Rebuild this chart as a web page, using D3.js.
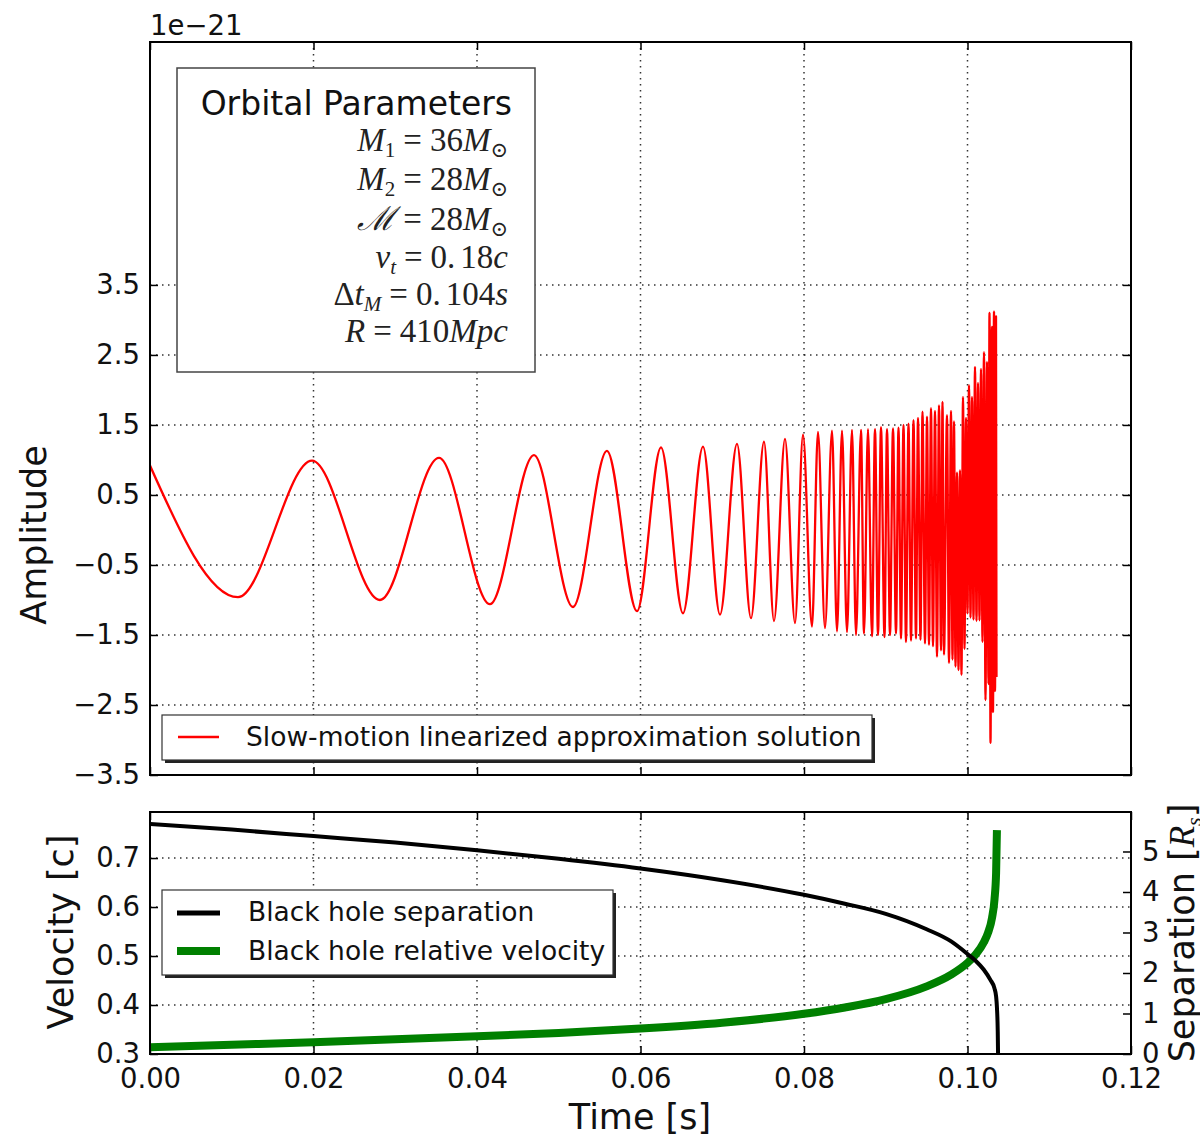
<!DOCTYPE html>
<html>
<head>
<meta charset="utf-8">
<script src="https://cdn.jsdelivr.net/npm/d3@7"></script>
<style>
body { margin: 0; background: #fff; }
</style>
</head>
<body>
<div class="chart"></div>
<script>
// tick values
const xTicks = [0, 0.02, 0.04, 0.06, 0.08, 0.10, 0.12];
const ampTicks = [3.5, 2.5, 1.5, 0.5, -0.5, -1.5, -2.5, -3.5];
const velTicks = [0.3, 0.4, 0.5, 0.6, 0.7];
const sepTicks = [0, 1, 2, 3, 4, 5];

// strain waveform, read as successive peaks/troughs (time in s, amplitude in 1e-21)
const waveT = [0.000000, 0.010765, 0.019816, 0.028135, 0.035352, 0.041590, 0.046972, 0.051743, 0.055902, 0.059572,
  0.062508, 0.065199, 0.067645, 0.069725, 0.071804, 0.073517, 0.075107, 0.076330, 0.077676, 0.078899,
  0.079878, 0.080978, 0.081712, 0.082569, 0.083425, 0.084037, 0.084648, 0.085260, 0.085871, 0.086361,
  0.086972, 0.087339, 0.087829, 0.088318, 0.088685, 0.089052, 0.089419, 0.089847, 0.090153,
  0.090520, 0.090887, 0.091254, 0.091560, 0.091865, 0.092171, 0.092477, 0.092783, 0.093089, 0.093394,
  0.093700, 0.093945, 0.094251, 0.094495, 0.094801, 0.095046, 0.095290, 0.095535, 0.095780, 0.096024,
  0.096269, 0.096514, 0.096758, 0.096942, 0.097125, 0.097492, 0.097737, 0.097982, 0.098165, 0.098348,
  0.098532, 0.098715, 0.098899, 0.099082, 0.099266, 0.099449, 0.099633, 0.099816, 0.100000, 0.100183,
  0.100367, 0.100550, 0.100734, 0.100917, 0.101101, 0.101284, 0.101468, 0.101651, 0.101835, 0.102018,
  0.102202, 0.102385, 0.102569, 0.102691, 0.102813, 0.102997, 0.103119, 0.103242, 0.103364, 0.103486, 0.103548];
const waveA = [0.92, -0.96, 0.99, -1.00, 1.03, -1.06, 1.07, -1.10, 1.13, -1.16,
  1.18, -1.19, 1.19, -1.21, 1.23, -1.26, 1.26, -1.30, 1.30, -1.33,
  1.36, -1.38, 1.40, -1.40, 1.42, -1.45, 1.42, -1.46, 1.43, -1.50,
  1.43, -1.48, 1.44, -1.52, 1.44, -1.50, 1.47, -1.53, 1.44,
  -1.50, 1.45, -1.48, 1.46, -1.55, 1.50, -1.60, 1.52, -1.58, 1.57,
  -1.55, 1.60, -1.57, 1.69, -1.62, 1.62, -1.64, 1.74, -1.66, 1.70,
  -1.81, 1.78, -1.72, 1.83, -1.78, 1.64, -1.90, 1.70, -1.85, 1.55,
  -1.95, 0.82, -2.00, 0.85, -2.07, 1.90, -1.70, 1.60, -1.19, 2.07,
  -1.25, 1.90, -1.28, 2.33, -1.30, 2.10, -1.29, 2.30, -1.60, 2.54,
  -2.43, 2.40, -2.20, 3.10, -3.04, 2.90, -2.60, 3.12, -2.30, 3.05, -2.10];

// black hole separation (R_s)
const sepT = [0, 0.01, 0.02, 0.03, 0.04, 0.05, 0.06, 0.07, 0.08, 0.085, 0.09, 0.095, 0.098, 0.1, 0.101, 0.102, 0.1028, 0.1033, 0.1035, 0.1036, 0.1037, 0.10375];
const sepR = [5.68, 5.54, 5.38, 5.22, 5.03, 4.82, 4.58, 4.29, 3.93, 3.71, 3.46, 3.08, 2.78, 2.47, 2.30, 2.08, 1.83, 1.62, 1.42, 1.15, 0.55, -0.2];

// relative velocity (c)
const velT = [0, 0.01, 0.02, 0.03, 0.04, 0.05, 0.06, 0.07, 0.08, 0.085, 0.09, 0.095, 0.098, 0.1, 0.101, 0.102, 0.1025, 0.103, 0.1033, 0.1035, 0.1036];
const velV = [0.314, 0.319, 0.324, 0.330, 0.336, 0.343, 0.352, 0.364, 0.382, 0.395, 0.412, 0.438, 0.462, 0.486, 0.503, 0.528, 0.547, 0.578, 0.615, 0.67, 0.757];

const W = 1200, H = 1138;
const left = 150, right = 1131;
const top1 = 42, bot1 = 775;
const top2 = 812, bot2 = 1054;
const tickFont = 27.5, labelFont = 35, legendFont = 26.5;
const sansFont = '"DejaVu Sans", sans-serif';
const serifFont = '"Liberation Serif", "DejaVu Serif", serif';

const svg = d3.select('.chart').append('svg')
  .attr('width', W)
  .attr('height', H)
  .attr('font-family', sansFont);

const x = d3.scaleLinear().domain([0, 0.12]).range([left, right]);
const yAmp = d3.scaleLinear().domain([-3.5, 6.97]).range([bot1, top1]);
const yVel = d3.scaleLinear().domain([0.3, 0.794]).range([bot2, top2]);
const ySep = d3.scaleLinear().domain([0, 5.975]).range([bot2, top2]);

const defs = svg.append('defs');
defs.append('clipPath').attr('id', 'clipTop').append('rect')
  .attr('x', left).attr('y', top1).attr('width', right - left).attr('height', bot1 - top1);
defs.append('clipPath').attr('id', 'clipBot').append('rect')
  .attr('x', left).attr('y', top2).attr('width', right - left).attr('height', bot2 - top2);

function grid(g, yScale, yVals, y0, y1) {
  g.selectAll('.vg').data(xTicks.slice(1, -1)).enter().append('line')
    .attr('x1', d => x(d)).attr('x2', d => x(d))
    .attr('y1', y0).attr('y2', y1);
  g.selectAll('.hg').data(yVals).enter().append('line')
    .attr('x1', left).attr('x2', right)
    .attr('y1', d => yScale(d)).attr('y2', d => yScale(d));
  g.selectAll('line')
    .attr('stroke', '#000')
    .attr('stroke-width', 1.5)
    .attr('stroke-dasharray', '1.5,4.5')
    .attr('stroke-opacity', 0.8);
}

function styleAxis(g) {
  g.select('.domain').remove();
  g.selectAll('.tick line').attr('stroke', '#000').attr('stroke-width', 1.5);
  g.selectAll('text').attr('font-size', tickFont).attr('fill', '#111')
    .attr('font-family', sansFont);
}

// ---------- top panel ----------
const gTop = svg.append('g');
grid(gTop.append('g'), yAmp, ampTicks.filter(d => d > -3.5), top1, bot1);

gTop.append('g').attr('transform', `translate(${left},0)`)
  .call(d3.axisLeft(yAmp).tickValues(ampTicks).tickFormat(d3.format('.1f')).tickSizeInner(-8).tickSizeOuter(0).tickPadding(10))
  .call(styleAxis);
gTop.append('g').attr('transform', `translate(${right},0)`)
  .call(d3.axisRight(yAmp).tickValues(ampTicks).tickFormat('').tickSizeInner(-8).tickSizeOuter(0))
  .call(styleAxis);
gTop.append('g').attr('transform', `translate(0,${bot1})`)
  .call(d3.axisBottom(x).tickValues(xTicks).tickFormat('').tickSizeInner(-8).tickSizeOuter(0))
  .call(styleAxis);
gTop.append('g').attr('transform', `translate(0,${top1})`)
  .call(d3.axisTop(x).tickValues(xTicks).tickFormat('').tickSizeInner(-8).tickSizeOuter(0))
  .call(styleAxis);

const wave = waveT.map((t, i) => ({t: t, a: waveA[i]}));
const waveLine = d3.line()
  .x(d => x(d.t))
  .y(d => yAmp(d.a))
  .curve(d3.curveMonotoneX);

gTop.append('path')
  .datum(wave)
  .attr('clip-path', 'url(#clipTop)')
  .attr('fill', 'none')
  .attr('stroke', '#ff0000')
  .attr('stroke-width', 2.3)
  .attr('stroke-linejoin', 'round')
  .attr('d', waveLine);

gTop.append('rect')
  .attr('x', left).attr('y', top1)
  .attr('width', right - left).attr('height', bot1 - top1)
  .attr('fill', 'none').attr('stroke', '#000').attr('stroke-width', 2);

svg.append('text')
  .attr('x', 150).attr('y', 35)
  .attr('font-size', tickFont)
  .attr('fill', '#111')
  .text('1e\u221221');

// orbital parameters box
const box = svg.append('g');
box.append('rect')
  .attr('x', 177).attr('y', 68).attr('width', 358).attr('height', 304)
  .attr('fill', '#fff').attr('stroke', '#444').attr('stroke-width', 1.5);
box.append('text')
  .attr('x', 512).attr('y', 115)
  .attr('text-anchor', 'end')
  .attr('font-size', 33)
  .attr('fill', '#111')
  .text('Orbital Parameters');

function mathLine(y, parts) {
  const t = box.append('text')
    .attr('x', 508).attr('y', y)
    .attr('text-anchor', 'end')
    .attr('font-family', serifFont)
    .attr('font-size', 33)
    .attr('fill', '#222');
  let shift = 0;
  parts.forEach(p => {
    const s = t.append('tspan').text(p.t);
    if (p.i) s.attr('font-style', 'italic');
    const want = p.sub ? 6 : 0;
    if (want !== shift) { s.attr('dy', want - shift); shift = want; }
    if (p.sub) s.attr('font-size', 21);
    if (p.dx) s.attr('dx', p.dx);
  });
}
const eq = {t: '=', dx: 8};
mathLine(151, [{t: 'M', i: 1}, {t: '1', sub: 1}, eq, {t: '36', dx: 8}, {t: 'M', i: 1}, {t: '\u2299', sub: 1}]);
mathLine(190, [{t: 'M', i: 1}, {t: '2', sub: 1}, eq, {t: '28', dx: 8}, {t: 'M', i: 1}, {t: '\u2299', sub: 1}]);
mathLine(230, [{t: '\u2133', i: 1}, eq, {t: '28', dx: 8}, {t: 'M', i: 1}, {t: '\u2299', sub: 1}]);
mathLine(268, [{t: 'v', i: 1}, {t: 't', i: 1, sub: 1}, eq, {t: '0.', dx: 8}, {t: '18', dx: 5}, {t: 'c', i: 1}]);
mathLine(305, [{t: '\u0394'}, {t: 't', i: 1}, {t: 'M', i: 1, sub: 1}, eq, {t: '0.', dx: 8}, {t: '104', dx: 5}, {t: 's', i: 1}]);
mathLine(342, [{t: 'R', i: 1}, eq, {t: '410', dx: 8}, {t: 'Mpc', i: 1}]);

// top legend
const leg1 = svg.append('g');
leg1.append('rect').attr('x', 165).attr('y', 718).attr('width', 710).attr('height', 45).attr('fill', '#222');
leg1.append('rect').attr('x', 162).attr('y', 715).attr('width', 710).attr('height', 45)
  .attr('fill', '#fff').attr('stroke', '#333').attr('stroke-width', 1.2);
leg1.append('line').attr('x1', 178).attr('x2', 219).attr('y1', 737).attr('y2', 737)
  .attr('stroke', '#ff0000').attr('stroke-width', 2.3);
leg1.append('text').attr('x', 246).attr('y', 746).attr('font-size', legendFont).attr('fill', '#111')
  .text('Slow-motion linearized approximation solution');

svg.append('text')
  .attr('transform', 'translate(46,535) rotate(-90)')
  .attr('text-anchor', 'middle')
  .attr('font-size', labelFont)
  .attr('fill', '#111')
  .text('Amplitude');

// ---------- bottom panel ----------
const gBot = svg.append('g');
grid(gBot.append('g'), yVel, velTicks.filter(d => d > 0.3), top2, bot2);

gBot.append('g').attr('transform', `translate(${left},0)`)
  .call(d3.axisLeft(yVel).tickValues(velTicks).tickFormat(d3.format('.1f')).tickSizeInner(-8).tickSizeOuter(0).tickPadding(10))
  .call(styleAxis);
gBot.append('g').attr('transform', `translate(${right},0)`)
  .call(d3.axisRight(ySep).tickValues(sepTicks).tickFormat(d3.format('d')).tickSizeInner(-8).tickSizeOuter(0).tickPadding(11))
  .call(styleAxis);
gBot.append('g').attr('transform', `translate(0,${bot2})`)
  .call(d3.axisBottom(x).tickValues(xTicks).tickFormat(d3.format('.2f')).tickSizeInner(-8).tickSizeOuter(0).tickPadding(14))
  .call(styleAxis);
gBot.append('g').attr('transform', `translate(0,${top2})`)
  .call(d3.axisTop(x).tickValues(xTicks).tickFormat('').tickSizeInner(-8).tickSizeOuter(0))
  .call(styleAxis);

const vel = velT.map((t, i) => ({t: t, v: velV[i]}));
const sep = sepT.map((t, i) => ({t: t, r: sepR[i]}));

gBot.append('path')
  .datum(vel)
  .attr('clip-path', 'url(#clipBot)')
  .attr('fill', 'none')
  .attr('stroke', '#008000')
  .attr('stroke-width', 8)
  .attr('d', d3.line().x(d => x(d.t)).y(d => yVel(d.v)).curve(d3.curveMonotoneX));

gBot.append('path')
  .datum(sep)
  .attr('clip-path', 'url(#clipBot)')
  .attr('fill', 'none')
  .attr('stroke', '#000')
  .attr('stroke-width', 4)
  .attr('d', d3.line().x(d => x(d.t)).y(d => ySep(d.r)).curve(d3.curveMonotoneX));

gBot.append('rect')
  .attr('x', left).attr('y', top2)
  .attr('width', right - left).attr('height', bot2 - top2)
  .attr('fill', 'none').attr('stroke', '#000').attr('stroke-width', 2);

// bottom legend
const leg2 = svg.append('g');
leg2.append('rect').attr('x', 165).attr('y', 893).attr('width', 451).attr('height', 85).attr('fill', '#222');
leg2.append('rect').attr('x', 162).attr('y', 890).attr('width', 451).attr('height', 85)
  .attr('fill', '#fff').attr('stroke', '#333').attr('stroke-width', 1.2);
leg2.append('line').attr('x1', 177).attr('x2', 220).attr('y1', 913).attr('y2', 913)
  .attr('stroke', '#000').attr('stroke-width', 5);
leg2.append('text').attr('x', 248).attr('y', 921).attr('font-size', legendFont).attr('fill', '#111')
  .text('Black hole separation');
leg2.append('line').attr('x1', 177).attr('x2', 220).attr('y1', 951).attr('y2', 951)
  .attr('stroke', '#008000').attr('stroke-width', 8);
leg2.append('text').attr('x', 248).attr('y', 960).attr('font-size', legendFont).attr('fill', '#111')
  .text('Black hole relative velocity');

svg.append('text')
  .attr('transform', 'translate(73,932) rotate(-90)')
  .attr('text-anchor', 'middle')
  .attr('font-size', labelFont)
  .attr('fill', '#111')
  .text('Velocity [c]');

const sepLabel = svg.append('text')
  .attr('transform', 'translate(1194,933) rotate(-90)')
  .attr('text-anchor', 'middle')
  .attr('font-size', labelFont)
  .attr('fill', '#111');
sepLabel.append('tspan').text('Separation [');
sepLabel.append('tspan').text('R').attr('font-style', 'italic').attr('font-family', serifFont);
sepLabel.append('tspan').text('s').attr('font-style', 'italic').attr('font-family', serifFont)
  .attr('font-size', 22).attr('dy', 7);
sepLabel.append('tspan').text(']').attr('dy', -7);

svg.append('text')
  .attr('x', 640).attr('y', 1129)
  .attr('text-anchor', 'middle')
  .attr('font-size', labelFont)
  .attr('fill', '#111')
  .text('Time [s]');
</script>
</body>
</html>
